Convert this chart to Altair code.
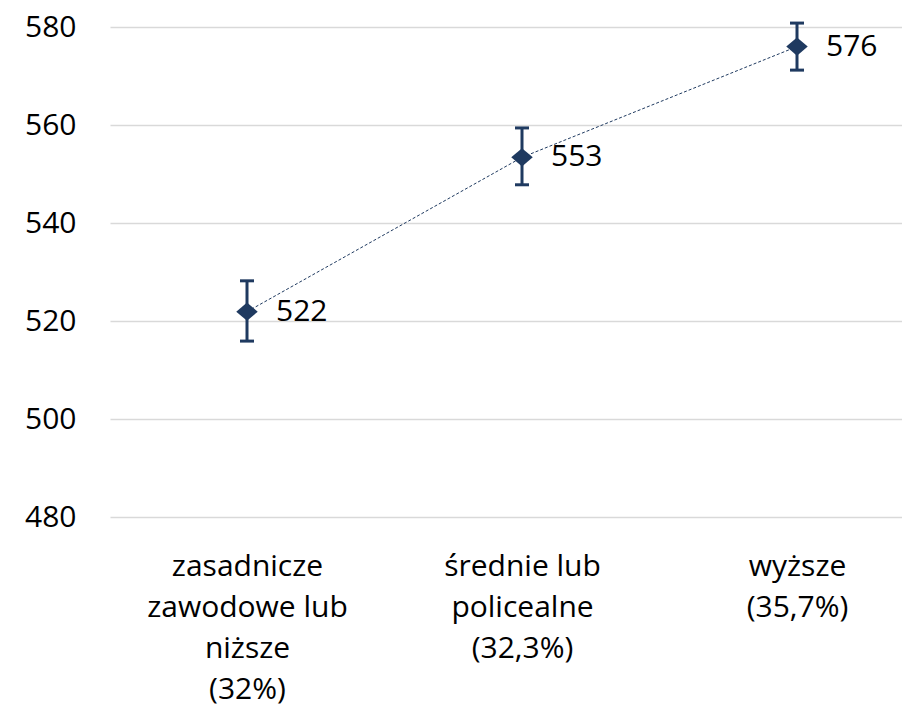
import altair as alt
import pandas as pd

categories = ["zasadnicze\nzawodowe lub\nniższe\n(32%)", "średnie lub\npolicealne\n(32,3%)", "wyższe\n(35,7%)"]
positions = [0, 1, 2]
values = [521.9, 553.4, 576.0]
labels = ["522", "553", "576"]
lower = [515.9, 547.8, 571.2]
upper = [528.2, 559.4, 580.8]
y_ticks = [480, 500, 520, 540, 560, 580]

df = pd.DataFrame({"pos": positions, "value": values, "label": labels, "lo": lower, "hi": upper})

NAVY = "#1f3a60"
FONT = "Open Sans"

cat_array = "[" + ",".join("'" + c.replace("\n", "|") + "'" for c in categories) + "]"
label_expr = "split(" + cat_array + "[datum.value], '|')"

x_scale = alt.Scale(domain=[-0.4982, 2.3818], nice=False, zero=False)
x_axis = alt.Axis(title=None, values=positions, labelExpr=label_expr, labelAngle=0,
                  labelFontSize=30, labelLineHeight=41, labelPadding=34, ticks=False,
                  domain=False, grid=False, labelColor="#000000", labelFont=FONT,
                  labelBaseline="top", labelOverlap=False, labelAlign="center",
                  labelLimit=500)
y_scale = alt.Scale(domain=[480, 580], nice=False, zero=False)
y_axis = alt.Axis(title=None, values=y_ticks, ticks=False, domain=False, labelPadding=34,
                  labelFontSize=30, labelFont=FONT, labelColor="#000000",
                  gridColor="#d9d9d9", gridWidth=1.5)

base = alt.Chart(df)
X = alt.X("pos:Q", scale=x_scale, axis=x_axis)

line = base.mark_line(color=NAVY, strokeWidth=1, strokeDash=[3, 2]).encode(
    x=X, y=alt.Y("value:Q", scale=y_scale, axis=y_axis))
rule = base.mark_rule(color=NAVY, strokeWidth=3, opacity=1).encode(
    x=X, y=alt.Y("lo:Q", scale=y_scale), y2="hi:Q")
cap_lo = base.mark_tick(color=NAVY, orient="horizontal", size=14, thickness=3, opacity=1).encode(
    x=X, y=alt.Y("lo:Q", scale=y_scale))
cap_hi = base.mark_tick(color=NAVY, orient="horizontal", size=14, thickness=3, opacity=1).encode(
    x=X, y=alt.Y("hi:Q", scale=y_scale))
pts = base.mark_point(shape="M-1,0L0,-0.85L1,0L0,0.85Z", filled=True, size=460, color=NAVY, opacity=1).encode(
    x=X, y=alt.Y("value:Q", scale=y_scale))
txt = base.mark_text(align="left", baseline="middle", dx=29, fontSize=30, font=FONT, color="#000000").encode(
    x=X, y=alt.Y("value:Q", scale=y_scale), text="label:N")

chart = alt.layer(line, rule, cap_lo, cap_hi, pts, txt).properties(
    width=792, height=490,
    autosize=alt.AutoSizeParams(type="none"),
    padding={"left": 102, "top": 19, "right": 0, "bottom": 196},
    background="#ffffff",
).configure_view(stroke=None)

chart.save("out.html", embed_options={"renderer": "svg", "actions": False})
